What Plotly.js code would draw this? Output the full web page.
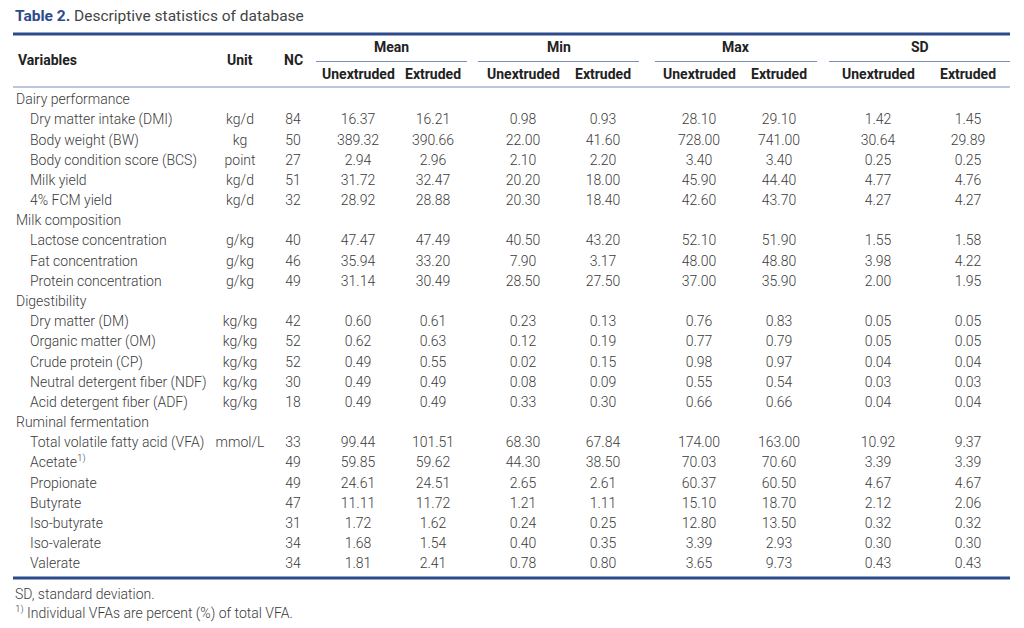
<!DOCTYPE html>
<html><head><meta charset="utf-8">
<script src="https://cdn.plot.ly/plotly-3.0.1.min.js"></script>
<style>html,body{margin:0;padding:0;background:#fff}</style>
</head><body><div id="chart" style="width:1024px;height:628px"></div>
<script>
// ---- data ----
const groups = ["Dairy performance", "Milk composition", "Digestibility", "Ruminal fermentation"];
const groupSizes = [5, 3, 5, 7];
const variables = [
  "Dry matter intake (DMI)", "Body weight (BW)", "Body condition score (BCS)", "Milk yield", "4% FCM yield",
  "Lactose concentration", "Fat concentration", "Protein concentration",
  "Dry matter (DM)", "Organic matter (OM)", "Crude protein (CP)", "Neutral detergent fiber (NDF)", "Acid detergent fiber (ADF)",
  "Total volatile fatty acid (VFA)", "Acetate<sup>1)</sup>", "Propionate", "Butyrate", "Iso-butyrate", "Iso-valerate", "Valerate"
];
const units = ["kg/d", "kg", "point", "kg/d", "kg/d", "g/kg", "g/kg", "g/kg",
  "kg/kg", "kg/kg", "kg/kg", "kg/kg", "kg/kg", "mmol/L", "", "", "", "", "", ""];
const nc = [84, 50, 27, 51, 32, 40, 46, 49, 42, 52, 52, 30, 18, 33, 49, 49, 47, 31, 34, 34];
const meanUnextruded = [16.37, 389.32, 2.94, 31.72, 28.92, 47.47, 35.94, 31.14, 0.60, 0.62, 0.49, 0.49, 0.49, 99.44, 59.85, 24.61, 11.11, 1.72, 1.68, 1.81];
const meanExtruded   = [16.21, 390.66, 2.96, 32.47, 28.88, 47.49, 33.20, 30.49, 0.61, 0.63, 0.55, 0.49, 0.49, 101.51, 59.62, 24.51, 11.72, 1.62, 1.54, 2.41];
const minUnextruded  = [0.98, 22.00, 2.10, 20.20, 20.30, 40.50, 7.90, 28.50, 0.23, 0.12, 0.02, 0.08, 0.33, 68.30, 44.30, 2.65, 1.21, 0.24, 0.40, 0.78];
const minExtruded    = [0.93, 41.60, 2.20, 18.00, 18.40, 43.20, 3.17, 27.50, 0.13, 0.19, 0.15, 0.09, 0.30, 67.84, 38.50, 2.61, 1.11, 0.25, 0.35, 0.80];
const maxUnextruded  = [28.10, 728.00, 3.40, 45.90, 42.60, 52.10, 48.00, 37.00, 0.76, 0.77, 0.98, 0.55, 0.66, 174.00, 70.03, 60.37, 15.10, 12.80, 3.39, 3.65];
const maxExtruded    = [29.10, 741.00, 3.40, 44.40, 43.70, 51.90, 48.80, 35.90, 0.83, 0.79, 0.97, 0.54, 0.66, 163.00, 70.60, 60.50, 18.70, 13.50, 2.93, 9.73];
const sdUnextruded   = [1.42, 30.64, 0.25, 4.77, 4.27, 1.55, 3.98, 2.00, 0.05, 0.05, 0.04, 0.03, 0.04, 10.92, 3.39, 4.67, 2.12, 0.32, 0.30, 0.43];
const sdExtruded     = [1.45, 29.89, 0.25, 4.76, 4.27, 1.58, 4.22, 1.95, 0.05, 0.05, 0.04, 0.03, 0.04, 9.37, 3.39, 4.67, 2.06, 0.32, 0.30, 0.43];
const statGroups = ["Mean", "Min", "Max", "SD"];
const subHeaders = ["Unextruded", "Extruded"];

// ---- layout constants ----
const FONT = "Roboto, 'Open Sans', sans-serif";
const BODY = "#3b3b3b", HEAD = "#222222";
const NAVY = "#2d4a8c", THIN = "#7a8ec2";
const rowY0 = 100.8, rowH = 20.17;
const xGroup = 16, xItem = 30, xUnit = 240, xNC = 293;
const statCols = [[358, 433], [523, 603], [699, 779], [878, 968]];
const statSpans = [[316, 467], [478, 639], [655, 817], [829, 1010]];

// build row positions
const groupRowY = [], itemRowY = [];
let r = 0;
groups.forEach((g, gi) => {
  groupRowY.push(rowY0 + r * rowH); r++;
  for (let k = 0; k < groupSizes[gi]; k++) { itemRowY.push(rowY0 + r * rowH); r++; }
});

const fmt = a => a.map(v => v.toFixed(2));
const bodyFont = {family: FONT, size: 14, color: BODY, weight: 300};

function textTrace(xs, ys, texts, pos) {
  return {type: "scatter", mode: "text", x: xs, y: ys, text: texts,
    textposition: pos, textfont: bodyFont, hoverinfo: "skip", showlegend: false, cliponaxis: false};
}
const n = variables.length;
const rep = v => Array(n).fill(v);
const unitIdx = units.map((u, i) => i).filter(i => units[i] !== "");
const traces = [
  textTrace(groups.map(() => xGroup), groupRowY, groups, "middle right"),
  textTrace(rep(xItem), itemRowY, variables, "middle right"),
  textTrace(unitIdx.map(() => xUnit), unitIdx.map(i => itemRowY[i]), unitIdx.map(i => units[i]), "middle center"),
  textTrace(rep(xNC), itemRowY, nc.map(String), "middle center")
];
const statData = [[meanUnextruded, meanExtruded], [minUnextruded, minExtruded], [maxUnextruded, maxExtruded], [sdUnextruded, sdExtruded]];
statData.forEach((pair, i) => pair.forEach((arr, j) => {
  traces.push(textTrace(rep(statCols[i][j]), itemRowY, fmt(arr), "middle center"));
}));

const headFont = {family: FONT, size: 14, color: HEAD, weight: 700};
const ann = [];
const A = (x, y, text, xanchor, font) => ann.push({x, y, xref: "x", yref: "y", text, xanchor, yanchor: "middle", showarrow: false, font});
A(13, 16, "<b><span style='color:" + NAVY + "'>Table 2.</span></b> Descriptive statistics of database", "left", {family: FONT, size: 15.5, color: "#444"});
A(16, 60, "Variables", "left", headFont);
A(xUnit, 60, "Unit", "center", headFont);
A(xNC, 60, "NC", "center", headFont);
statGroups.forEach((g, i) => {
  A((statSpans[i][0] + statSpans[i][1]) / 2, 47, g, "center", headFont);
  subHeaders.forEach((s, j) => A(statCols[i][j], 74, s, "center", headFont));
});
A(13, 594, "SD, standard deviation.", "left", bodyFont);
A(13, 612, "<sup>1)</sup> Individual VFAs are percent (%) of total VFA.", "left", bodyFont);

const shapes = [];
const L = (x0, x1, y, color, w) => shapes.push({type: "line", xref: "x", yref: "y", x0, x1, y0: y, y1: y, line: {color, width: w}});
L(13, 1010, 34, NAVY, 3);
statSpans.forEach(s => L(s[0], s[1], 61.5, THIN, 1.2));
L(13, 1010, 87, THIN, 1.2);
L(13, 1010, 578, NAVY, 3);

const layout = {
  width: 1024, height: 628, autosize: false,
  margin: {l: 0, r: 0, t: 0, b: 0, pad: 0},
  paper_bgcolor: "#fff", plot_bgcolor: "#fff",
  xaxis: {range: [0, 1024], visible: false, fixedrange: true},
  yaxis: {range: [628, 0], visible: false, fixedrange: true},
  annotations: ann, shapes: shapes, showlegend: false
};
Plotly.newPlot("chart", traces, layout, {staticPlot: true, displayModeBar: false});
</script></body></html>
